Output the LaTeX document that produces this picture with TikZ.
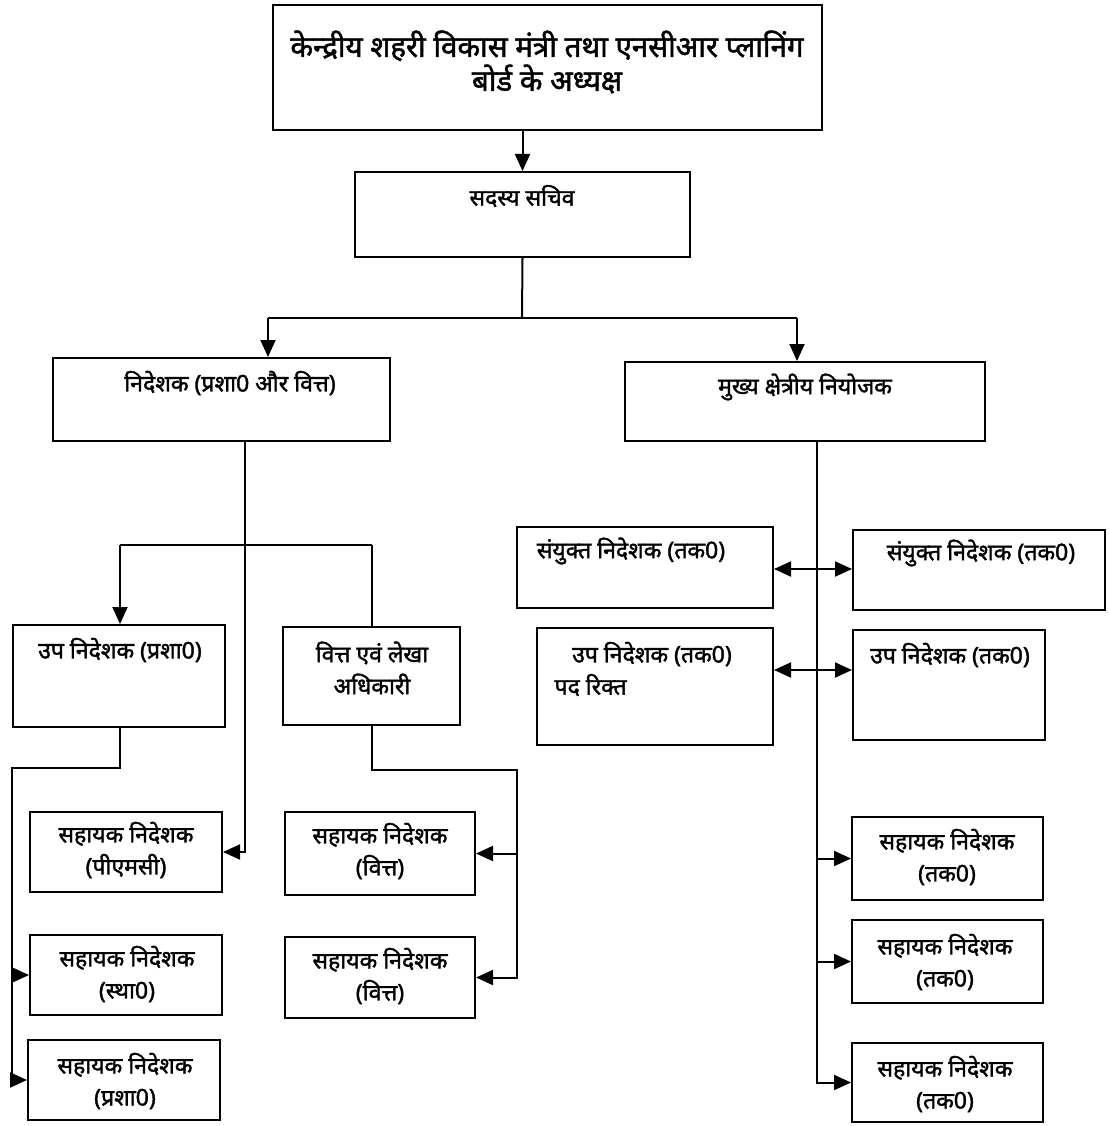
\documentclass[tikz,border=0pt]{standalone}
\usepackage{fontspec}
\newfontfamily\hindi[Script=Devanagari,FakeBold=1.6]{Noto Sans}
\usetikzlibrary{arrows.meta,positioning,fit}

\begin{document}
\begin{tikzpicture}[x=1pt,y=-1pt,
    box/.style={draw, line width=2pt, inner sep=0pt},
    txt/.style={font=\hindi\fontsize{23}{32}\selectfont, align=center},
    bigtxt/.style={font=\hindi\fontsize{29.5}{34}\selectfont, align=center},
    link/.style={line width=2pt},
    arr/.style={link, -{Triangle[length=17pt,width=15pt]}}]
    \fill[white] (0,0) rectangle (1108,1126);
    \useasboundingbox (0,0) rectangle (1108,1126);

    % top of the board
    \node[box, fit={(273,5) (822,130)}] (mantri) {};
    \node[bigtxt] (mantriT) at (547,62) {केन्द्रीय शहरी विकास मंत्री तथा एनसीआर प्लानिंग\\बोर्ड के अध्यक्ष};
    \node[box, fit={(355,172) (690,257)}] (sadasya) {};
    \node[txt] (sadasyaT) at (522,196) {सदस्य सचिव};

    % second level
    \node[box, fit={(53,358) (390,441)}] (nideshak) {};
    \node[txt] (nideshakT) at (230,383) {निदेशक (प्रशा0 और वित्त)};
    \node[box, fit={(625,362) (985,441)}] (mukhya) {};
    \node[txt] (mukhyaT) at (805,387) {मुख्य क्षेत्रीय नियोजक};

    % administration and finance side
    \node[box, fit={(13,625) (225,727)}] (upaP) {};
    \node[txt] (upaPT) at (120,650) {उप निदेशक (प्रशा0)};
    \node[box, fit={(283,627) (460,725)}] (lekha) {};
    \node[txt] (lekhaT) at (372,668) {वित्त एवं लेखा\\अधिकारी};
    \node[box, fit={(30,812) (222,892)}] (pmc) {};
    \node[txt] (pmcT) at (126,850) {सहायक निदेशक\\(पीएमसी)};
    \node[box, fit={(30,935) (222,1015)}] (sthapana) {};
    \node[txt] (sthapanaT) at (127,974) {सहायक निदेशक\\(स्था0)};
    \node[box, fit={(28,1040) (220,1120)}] (prasha) {};
    \node[txt] (prashaT) at (125,1081) {सहायक निदेशक\\(प्रशा0)};
    \node[box, fit={(285,812) (475,895)}] (vittA) {};
    \node[txt] (vittAT) at (380,851) {सहायक निदेशक\\(वित्त)};
    \node[box, fit={(285,937) (475,1018)}] (vittB) {};
    \node[txt] (vittBT) at (380,976) {सहायक निदेशक\\(वित्त)};

    % planning side
    \node[box, fit={(517,527) (773,608)}] (sanL) {};
    \node[txt] (sanLT) at (631,551) {संयुक्त निदेशक (तक0)};
    \node[box, fit={(853,530) (1105,610)}] (sanR) {};
    \node[txt] (sanRT) at (981,553) {संयुक्त निदेशक (तक0)};
    \node[box, fit={(537,628) (773,745)}] (upaL) {};
    \node[txt] (upaLT) at (652,654) {उप निदेशक (तक0)};
    \node[txt, anchor=west] (rikt) at (551,685) {पद रिक्त};
    \node[box, fit={(853,630) (1045,740)}] (upaR) {};
    \node[txt] (upaRT) at (950,655) {उप निदेशक (तक0)};
    \node[box, fit={(852,817) (1043,900)}] (sahA) {};
    \node[txt] (sahAT) at (947,857) {सहायक निदेशक\\(तक0)};
    \node[box, fit={(852,920) (1043,1003)}] (sahB) {};
    \node[txt] (sahBT) at (945,962) {सहायक निदेशक\\(तक0)};
    \node[box, fit={(852,1043) (1043,1122)}] (sahC) {};
    \node[txt] (sahCT) at (945,1084) {सहायक निदेशक\\(तक0)};

    % connectors from the top
    \draw[arr] (sadasya.north |- mantri.south) -- (sadasya.north);
    \coordinate (split) at (522,318);
    \coordinate (splitL) at (268,318);
    \coordinate (splitR) at (797,318);
    \draw[link] (sadasya.south) -- (split);
    \draw[link] (splitL) -- (splitR);
    \draw[arr] (splitL) -- (splitL |- nideshak.north);
    \draw[arr] (splitR) -- (splitR |- mukhya.north);

    % left branch
    \coordinate (nidOut) at (245,441);
    \draw[arr] (nidOut) |- (pmc.east);
    \coordinate (barL) at (120,545);
    \coordinate (barR) at (372,545);
    \draw[link] (barL) -- (barR);
    \draw[arr] (barL) -- (barL |- upaP.north);
    \draw[link] (barR) -- (barR |- lekha.north);
    \coordinate (upaBend) at (120,768);
    \coordinate (spineL) at (12,768);
    \draw[arr] (upaBend |- upaP.south) -- (upaBend) -- (spineL) |- (prasha.west);
    \draw[arr] (spineL |- sthapana.west) -- (sthapana.west);
    \coordinate (spineM) at (517,770);
    \draw[arr] (lekha.south) |- (spineM) |- (vittB.east);
    \draw[arr] (spineM |- vittA.east) -- (vittA.east);

    % right branch
    \coordinate (trunk) at (817,441);
    \draw[arr] (trunk) |- (sahC.west);
    \draw[arr] (trunk |- sahA.west) -- (sahA.west);
    \draw[arr] (trunk |- sahB.west) -- (sahB.west);
    \coordinate (sanRow) at (817,569);
    \draw[arr] (sanRow) -- (sanL.east |- sanRow);
    \draw[arr] (sanRow) -- (sanR.west |- sanRow);
    \coordinate (upaRow) at (817,670);
    \draw[arr] (upaRow) -- (upaL.east |- upaRow);
    \draw[arr] (upaRow) -- (upaR.west |- upaRow);
\end{tikzpicture}
\end{document}
